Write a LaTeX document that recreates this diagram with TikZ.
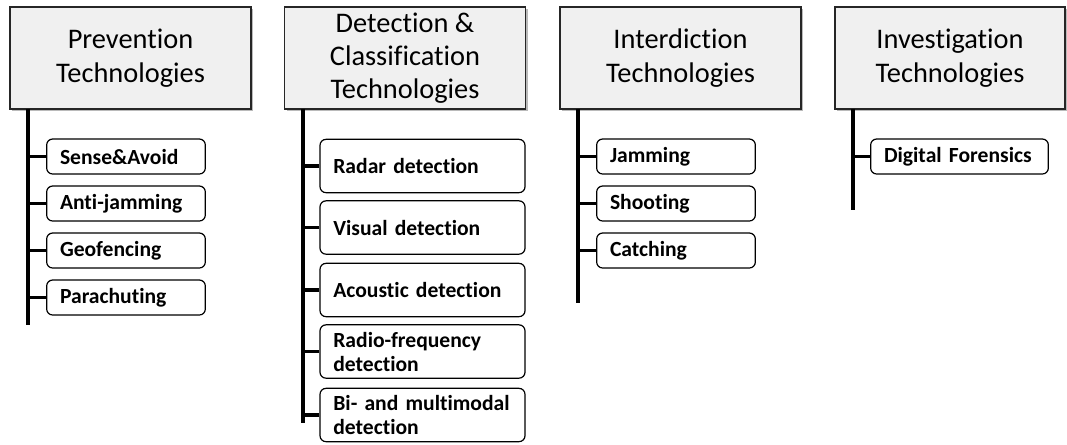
\documentclass[tikz,border=0pt]{standalone}
\usepackage{fontspec}
\setmainfont{Carlito}[Ligatures={NoCommon,NoRequired,NoContextual}]
\usetikzlibrary{shadows}
\begin{document}
\begin{tikzpicture}[x=0.75pt,y=-0.75pt,
  head/.style={draw=black!85, line width=1.1pt, fill=black!6,
    minimum width=180.75pt, minimum height=76.5pt, align=center,
    font=\fontsize{21.3}{25}\selectfont, inner sep=2pt,
    drop shadow={shadow xshift=1.6pt, shadow yshift=-1.6pt, fill=black!45, opacity=0.6}},
  item/.style={draw=black, line width=0.9pt, rounded corners=4.5pt, fill=white,
    align=left, font=\bfseries\fontsize{16.2}{18}\selectfont,
    inner xsep=10pt, inner ysep=1pt, minimum height=26.25pt},
  tall/.style={minimum height=40pt},
  spine/.style={line width=2.5pt, line cap=butt}]
\useasboundingbox (0,0) rectangle (1067,444);

% category headers
\node[head] (hp) at (130.5,58) {Prevention\\Technologies};
\node[head] (hd) at (405,58) {Detection \&\\Classification\\Technologies};
\node[head] (hi) at (680.5,58) {Interdiction\\Technologies};
\node[head, minimum width=172.5pt] (hv) at (950,58) {Investigation\\Technologies};

% spines below each header
\coordinate (pTop) at (28,109);  \coordinate (pEnd) at (28,325);
\coordinate (dTop) at (303,109); \coordinate (dEnd) at (303,423);
\coordinate (iTop) at (578,109); \coordinate (iEnd) at (578,303);
\coordinate (vTop) at (853,109); \coordinate (vEnd) at (853,210);
\draw[spine] (pTop) -- (pEnd);
\draw[spine] (dTop) -- (dEnd);
\draw[spine] (iTop) -- (iEnd);
\draw[spine] (vTop) -- (vEnd);

% prevention items
\node[item, text width=99pt] (p1) at (126,156.5) {Sense\&Avoid};
\node[item, text width=99pt] (p2) at (126,203.5) {Anti-jamming};
\node[item, text width=99pt] (p3) at (126,250.5) {Geofencing};
\node[item, text width=99pt] (p4) at (126,297.5) {Parachuting};

% detection items
\node[item, tall, text width=133.75pt] (d1) at (422.5,166) {Radar detection};
\node[item, tall, text width=133.75pt] (d2) at (422.5,227.5) {Visual detection};
\node[item, tall, text width=133.75pt] (d3) at (422.5,290) {Acoustic detection};
\node[item, tall, text width=133.75pt] (d4) at (422.5,351.5) {Radio-frequency\\detection};
\node[item, tall, text width=133.75pt] (d5) at (422.5,415) {Bi- and multimodal\\detection};

% interdiction items
\node[item, text width=99pt] (i1) at (676,156.5) {Jamming};
\node[item, text width=99pt] (i2) at (676,203.5) {Shooting};
\node[item, text width=99pt] (i3) at (676,250.5) {Catching};

% investigation items
\node[item, text width=113.25pt] (v1) at (959.5,156.5) {Digital Forensics};

% branches from spines to items
\foreach \n in {p1,p2,p3,p4} \draw[spine] (\n.west) -- (\n.west -| pTop);
\foreach \n in {d1,d2,d3,d4,d5} \draw[spine] (\n.west) -- (\n.west -| dTop);
\foreach \n in {i1,i2,i3} \draw[spine] (\n.west) -- (\n.west -| iTop);
\draw[spine] (v1.west) -- (v1.west -| vTop);
\end{tikzpicture}
\end{document}
